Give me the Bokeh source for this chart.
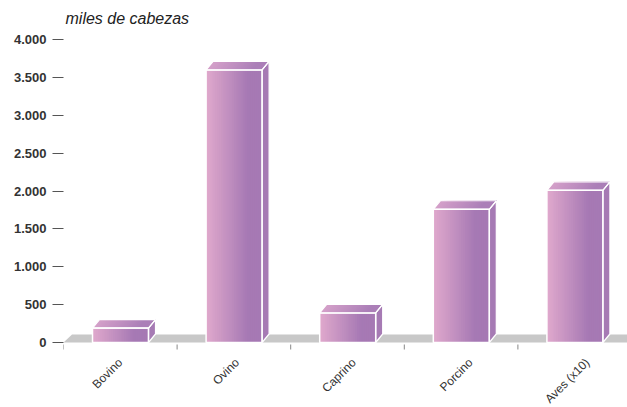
import numpy as np
from bokeh.plotting import figure
from bokeh.models import Range1d, FixedTicker
from bokeh.core.properties import value
from bokeh.embed import file_html
from bokeh.resources import INLINE

# ---- data ----
categories = ["Bovino", "Ovino", "Caprino", "Porcino", "Aves (x10)"]
values = [190, 3600, 390, 1760, 2010]
y_ticks = [0, 500, 1000, 1500, 2000, 2500, 3000, 3500, 4000]
y_tick_labels = ["0", "500", "1.000", "1.500", "2.000", "2.500", "3.000", "3.500", "4.000"]
y_title = "miles de cabezas"

# ---- layout constants ----
W, H = 627, 407
LEFT = 63
FW, FH = W - LEFT, H
CAT_PX = 113.6          # pixels per category
PX_PER_UNIT = 0.0757    # pixels per value unit
ZERO_FROM_TOP = 342     # canvas y of value 0
LABEL_SHIFT = 3.2       # extra px drift per category of the x labels

x_end = FW / CAT_PX
y_top = ZERO_FROM_TOP / PX_PER_UNIT
y_bot = -(FH - ZERO_FROM_TOP) / PX_PER_UNIT


def px_x(n):
    return n / CAT_PX


def px_y(n):
    return n / PX_PER_UNIT


FONT = value("Liberation Sans")

p = figure(width=W, height=H, output_backend="svg", toolbar_location=None,
           x_range=Range1d(0, x_end), y_range=Range1d(y_bot, y_top),
           x_axis_type=None, min_border_left=LEFT, min_border_right=0,
           min_border_top=0, min_border_bottom=0)
p.outline_line_color = None
p.grid.visible = False
p.background_fill_color = "white"
p.border_fill_color = "white"

# y axis
ax = p.yaxis[0]
ax.ticker = FixedTicker(ticks=y_ticks)
ax.major_label_overrides = {t: l for t, l in zip(y_ticks, y_tick_labels)}
ax.major_label_text_font = "Liberation Sans"
ax.major_label_text_font_style = "bold"
ax.major_label_text_font_size = "13px"
ax.major_label_text_color = "#333333"
ax.axis_line_color = None
ax.major_tick_in = 0
ax.major_tick_out = 11
ax.major_tick_line_color = "#555555"
ax.major_tick_line_width = 1
ax.minor_tick_line_color = None
ax.major_label_standoff = 6

# floor
dxf = px_x(8.5)
dyf = px_y(8)
p.patch([0, x_end, x_end, dxf], [0, 0, dyf, dyf], fill_color="#c8c8c8", line_color=None)

# gradient helper
pink = np.array([0xdf, 0xa8, 0xcc], dtype=float)
purple = np.array([0xa6, 0x79, 0xb4], dtype=float)


def grad(t, a=pink, b=purple, stop=0.72):
    u = min(t / stop, 1.0)
    c = a + (b - a) * u
    return "#%02x%02x%02x" % tuple(int(round(v)) for v in c)


top_pink = np.array([0xd4, 0xa0, 0xc9], dtype=float)
top_purple = np.array([0xab, 0x7f, 0xb8], dtype=float)

N = 30
dx = px_x(7)
dy = px_y(8.5)
bar_off = px_x(29)
bar_w = px_x(56)

fl, fr, ft, fc = [], [], [], []
txs, tys, tcs = [], [], []
sxs, sys_ = [], []
oxs, oys = [], []
for i, v in enumerate(values):
    L = i + bar_off
    R = L + bar_w
    for k in range(N):
        xk = L + (R - L) * k / N
        fl.append(xk)
        fr.append(R)
        ft.append(v)
        fc.append(grad(k / N))
        txs.append([xk, R, R + dx, xk + dx])
        tys.append([v, v, v + dy, v + dy])
        tcs.append(grad(k / N, top_pink, top_purple, 0.8))
    sxs.append([R, R + dx, R + dx, R])
    sys_.append([0, dy, v + dy, v])
    oxs.append([L, R, R + dx, L + dx])
    oys.append([v, v, v + dy, v + dy])

p.quad(left=fl, right=fr, bottom=0, top=ft, fill_color=fc, line_color=None)
p.patches(txs, tys, fill_color=tcs, line_color=None)
p.patches(sxs, sys_, fill_color="#a67ab4", line_color="white", line_width=1.2)
p.patches(oxs, oys, fill_color=None, line_color="white", line_width=1.2)
p.quad(left=[i + bar_off for i in range(len(values))],
       right=[i + bar_off + bar_w for i in range(len(values))],
       bottom=0, top=values, fill_color=None, line_color="white", line_width=1.5)

# x tick marks at category boundaries
bounds = list(range(len(categories)))
p.segment(x0=bounds, y0=[-px_y(2)] * len(bounds), x1=bounds, y1=[-px_y(7)] * len(bounds),
          line_color="#888888", line_width=1)

# x labels
centers = [i + 0.5 for i in range(len(categories))]
p.text(x=[c + px_x(LABEL_SHIFT * i) for i, c in enumerate(centers)],
       y=[-px_y(18)] * len(centers), text=categories,
       angle=np.pi / 4, text_align="right", text_baseline="middle",
       text_font=FONT, text_font_size="12px", text_color="#333333")

# axis title
p.text(x=[px_x(2)], y=[4000 + px_y(21)], text=[y_title], text_align="left",
       text_baseline="middle", text_font=FONT, text_font_style="italic",
       text_font_size="16px", text_color="#222222")

open("out.html", "w").write(file_html(p, INLINE))
